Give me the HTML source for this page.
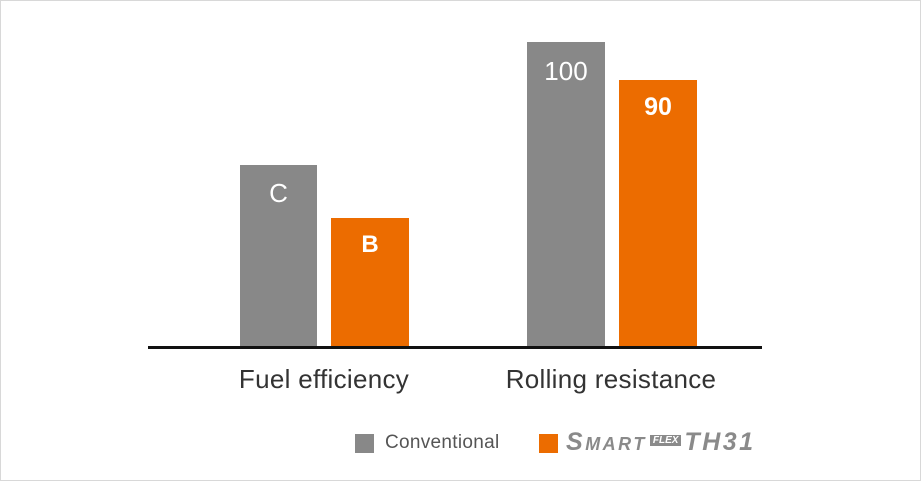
<!DOCTYPE html>
<html><head><style>
body{margin:0;width:921px;height:481px;background:#fff;position:relative;overflow:hidden;font-family:"Liberation Sans",sans-serif}
.f{position:absolute;left:0;top:0;width:919px;height:479px;border:1px solid #d8d8d8}
.b{position:absolute}
.g{background:#888}
.o{background:#ec6c00}
.t{position:absolute;color:#fff;text-align:center;font-size:26px}
.l{position:absolute;font-size:26px;color:#333;text-align:center;white-space:nowrap}
</style></head><body>
<div class="f"></div>
<div class="b g" style="left:240px;top:165px;width:77px;height:183px"></div>
<div class="b o" style="left:331px;top:218px;width:78px;height:130px"></div>
<div class="b g" style="left:527px;top:42px;width:78px;height:306px"></div>
<div class="b o" style="left:619px;top:80px;width:78px;height:268px"></div>
<div class="b" style="left:148px;top:346px;width:614px;height:3px;background:#111"></div>
<div class="t" style="left:240px;top:178px;width:77px">C</div>
<div class="t" style="left:331px;top:231px;width:78px;font-weight:bold;font-size:24px">B</div>
<div class="t" style="left:527px;top:56px;width:78px">100</div>
<div class="t" style="left:619px;top:93px;width:78px;font-weight:bold;font-size:25px">90</div>
<div class="l" style="left:199px;top:364px;width:250px;letter-spacing:0.3px">Fuel efficiency</div>
<div class="l" style="left:481px;top:364px;width:260px;letter-spacing:0.3px">Rolling resistance</div>
<div class="b g" style="left:355px;top:434px;width:19px;height:19px"></div>
<div class="b" style="left:385px;top:432px;font-size:19px;color:#555;letter-spacing:0.3px">Conventional</div>
<div class="b o" style="left:539px;top:434px;width:19px;height:19px"></div>
<div class="b" style="left:566px;top:428px;font-size:25px;color:#8a8a8a;font-weight:bold;font-style:italic;white-space:nowrap;letter-spacing:2.5px">S<span style="font-size:18px">MART</span><span style="font-size:10px;background:#8a8a8a;color:#fff;padding:0 3px;vertical-align:7px;margin:0 3px;letter-spacing:0">FLEX</span>TH31</div>
</body></html>
